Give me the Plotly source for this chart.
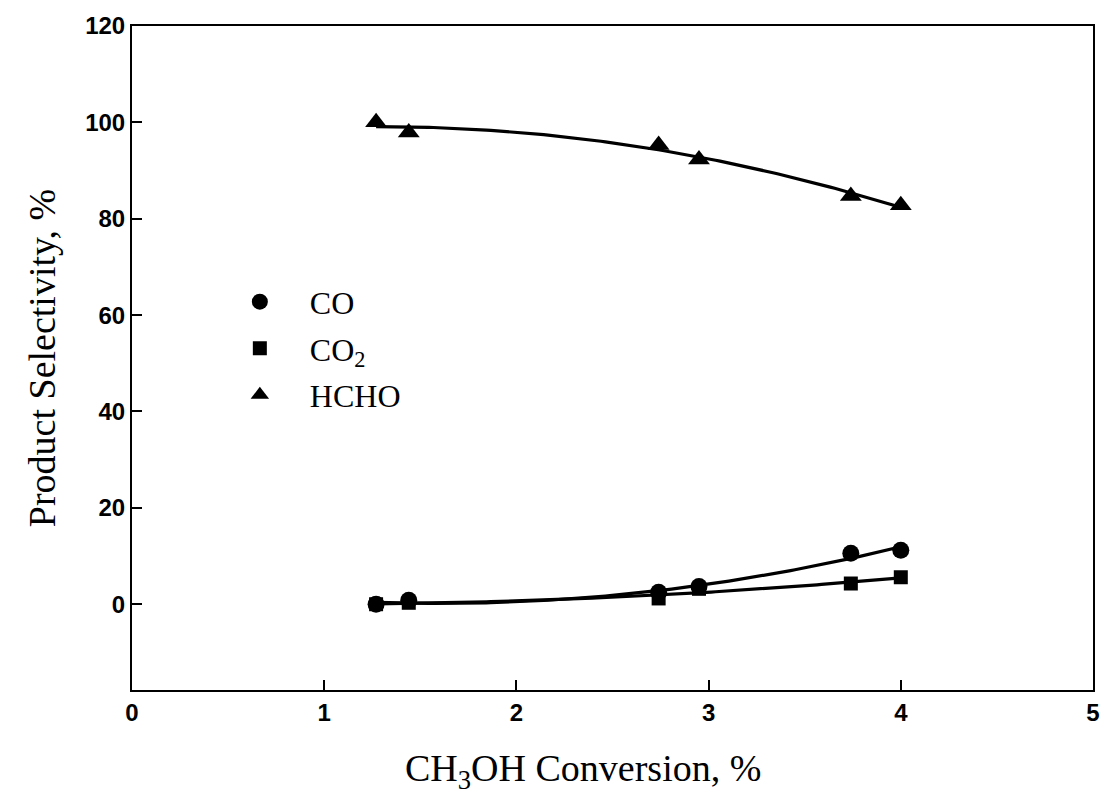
import numpy as np
import plotly.graph_objects as go

conversion = [1.27, 1.44, 2.74, 2.95, 3.74, 4.00]
sel_co = [0.0, 0.8, 2.5, 3.7, 10.6, 11.2]
sel_co2 = [0.0, 0.3, 1.2, 3.2, 4.3, 5.6]
sel_hcho = [100.0, 97.9, 95.3, 92.3, 84.7, 82.8]

x_ticks = [0, 1, 2, 3, 4, 5]
y_ticks = [0, 20, 40, 60, 80, 100, 120]

series = [
    ("CO", sel_co, "circle", 17),
    ("CO<sub>2</sub>", sel_co2, "square", 14),
    ("HCHO", sel_hcho, "triangle-up", 19),
]

fig = go.Figure()
xs = np.linspace(min(conversion), max(conversion), 120)
for name, ys, sym, size in series:
    coef = np.polyfit(conversion, ys, 2)
    fig.add_trace(go.Scatter(x=xs, y=np.polyval(coef, xs), mode="lines",
                             line=dict(color="black", width=3.2), showlegend=False,
                             hoverinfo="skip"))
for i, (name, ys, sym, size) in enumerate(series):
    fig.add_trace(go.Scatter(x=conversion, y=ys, mode="markers", name=name,
                             legendgroup=f"g{i}",
                             marker=dict(symbol=sym, size=size, color="black",
                                         line=dict(width=0))))

axis_common = dict(showline=True, linecolor="black", linewidth=2, mirror=True,
                   ticks="inside", ticklen=10, tickwidth=1.5, tickcolor="black",
                   showgrid=False, zeroline=False,
                   tickfont=dict(family="Liberation Sans, Arial", size=24, color="black",
                                 weight="bold"))

fig.update_layout(
    width=1112, height=805,
    paper_bgcolor="white", plot_bgcolor="white",
    margin=dict(l=132, r=14, t=24, b=115),
    xaxis=dict(range=[0, 5], tickvals=x_ticks, **axis_common),
    yaxis=dict(range=[-17.8, 120], tickvals=y_ticks,
               title=dict(text="Product Selectivity, %", standoff=18,
                          font=dict(family="Liberation Serif, Times New Roman", size=38,
                                    color="black")),
               **axis_common),
    legend=dict(x=0.081, y=0.626, xanchor="left", yanchor="top",
                bgcolor="rgba(0,0,0,0)", tracegroupgap=2, itemwidth=90,
                font=dict(family="Liberation Serif, Times New Roman", size=32, color="black")),
    showlegend=True,
    annotations=[dict(text="CH<sub>3</sub>OH Conversion, %", xref="paper", yref="paper",
                      x=0.469, y=-0.122, xanchor="center", yanchor="middle", showarrow=False,
                      font=dict(family="Liberation Serif, Times New Roman", size=38,
                                color="black"))],
)

fig.write_html("out.html")
